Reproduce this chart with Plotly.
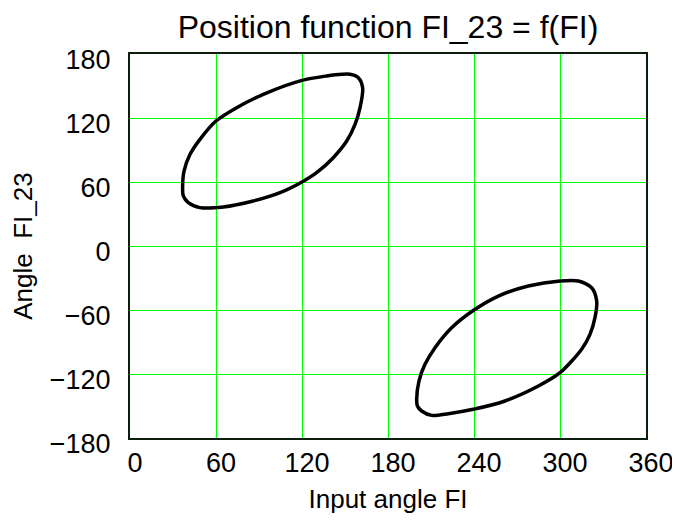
import plotly.graph_objects as go

x_ticks = [0, 60, 120, 180, 240, 300, 360]
y_ticks = [-180, -120, -60, 0, 60, 120, 180]

# Upper branch (closed loop)
loop1_fi = [36.7, 37.7, 41.9, 48.8, 60.0, 74.4, 93.0, 120.0, 137.2, 148.0, 153.5, 159.3,
            162.3, 160.5, 157.0, 151.2, 141.8, 130.2, 120.0, 104.7, 86.0, 65.1, 48.8,
            40.7, 37.2, 36.7]
loop1_fi23 = [54.7, 70.3, 86.0, 100.0, 117.2, 129.7, 142.2, 155.3, 159.4, 161.0, 161.0, 157.8,
              148.4, 129.7, 114.0, 98.4, 82.8, 68.7, 60.0, 50.0, 42.2, 36.6, 36.0,
              40.6, 46.9, 54.7]

# Lower branch (closed loop)
loop2_fi = [200.0, 201.6, 205.8, 212.8, 224.4, 240.0, 257.0, 277.9, 300.0, 312.8, 322.1,
            325.6, 324.4, 320.9, 315.1, 300.0, 284.9, 261.6, 239.5, 222.1, 210.5, 203.5,
            200.5, 200.0]
loop2_fi23 = [-143.7, -126.6, -110.9, -95.3, -76.6, -60.0, -46.9, -37.5, -32.8, -32.8, -39.1,
              -51.6, -67.2, -82.8, -96.8, -118.8, -131.3, -145.3, -153.1, -157.2, -158.8, -154.7,
              -150.0, -143.7]

FONT = "Liberation Sans, Arial, sans-serif"
PAGE_OFFSET = 8  # page body margin in the browser

fig = go.Figure()
for xs, ys in [(loop1_fi, loop1_fi23), (loop2_fi, loop2_fi23)]:
    fig.add_trace(go.Scatter(
        x=xs, y=ys, mode="lines",
        line=dict(color="black", width=3.5, shape="spline", smoothing=0.8),
        showlegend=False, hoverinfo="skip",
    ))

W, H = 680 - PAGE_OFFSET, 522 - PAGE_OFFSET
fig.update_layout(
    width=W, height=H,
    margin=dict(l=130 - PAGE_OFFSET, r=34, t=54 - PAGE_OFFSET, b=84, autoexpand=False),
    paper_bgcolor="white", plot_bgcolor="white",
    font=dict(family=FONT, color="black", size=27),
    title=dict(text="Position function FI_23 = f(FI)", x=(388 - PAGE_OFFSET) / W, xanchor="center",
               y=1 - (27 - PAGE_OFFSET) / H, yanchor="middle", yref="container", xref="container",
               font=dict(family=FONT, size=32, color="black")),
)
fig.update_xaxes(
    range=[0, 360], tickvals=x_ticks, ticktext=[str(v) for v in x_ticks],
    showgrid=True, gridcolor="#00ff00", gridwidth=1, zeroline=False,
    showline=True, linecolor="#0c1f0c", linewidth=2, mirror=True,
    ticks="", ticklabelshift=5, ticklabelstandoff=0, automargin=False,
    tickfont=dict(size=27, family=FONT, color="black"),
    title=dict(text="Input angle FI", standoff=12, font=dict(size=26, family=FONT, color="black")),
)
fig.update_yaxes(
    range=[-180, 180], tickvals=y_ticks,
    ticktext=[("\u2212" + str(-v)) if v < 0 else str(v) for v in y_ticks],
    showgrid=True, gridcolor="#00ff00", gridwidth=1, zeroline=False,
    showline=True, linecolor="#0c1f0c", linewidth=2, mirror=True,
    ticks="", ticklabelshift=6, ticklabelstandoff=12, automargin=False,
    tickfont=dict(size=27, family=FONT, color="black"),
    title=dict(text="Angle  FI_23", standoff=20, font=dict(size=26, family=FONT, color="black")),
)

fig.write_html("out.html")
